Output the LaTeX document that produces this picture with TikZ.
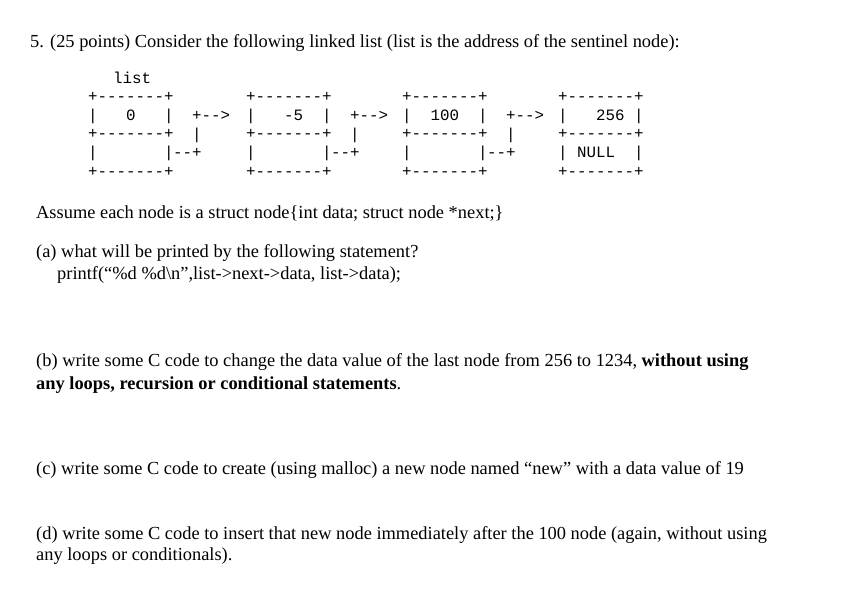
\documentclass[tikz,border=0pt]{standalone}
\usepackage{fontspec}
\setmainfont{Liberation Serif}
\setmonofont{Liberation Mono}
\newcommand{\blk}{\hphantom{0}}
\begin{document}
\begin{tikzpicture}[x=1pt,y=-1pt,
  txt/.style={anchor=base west,inner sep=0pt,font=\fontsize{18.4}{22}\selectfont},
  box/.style={anchor=north west,inner sep=0pt,align=left,font=\ttfamily\fontsize{15.8}{18.8}\selectfont},
  arr/.style={box}]
\fill[white] (0,0) rectangle (868,612);
\useasboundingbox (0,0) rectangle (868,612);
\node[txt] (t0) at (30,48) {5. (25 points) Consider the following linked list (list is the address of the sentinel node):};
\node[box] (lst) at (113,72) {list};
\node[box] (b1) at (88,92) {+-------+\\|\blk\blk\blk0\blk\blk\blk|\\+-------+\\|\blk\blk\blk\blk\blk\blk\blk|\\+-------+};
\node[box] (b2) at (246,92) {+-------+\\|\blk\blk\blk-5\blk\blk|\\+-------+\\|\blk\blk\blk\blk\blk\blk\blk|\\+-------+};
\node[box] (b3) at (402,92) {+-------+\\|\blk\blk100\blk\blk|\\+-------+\\|\blk\blk\blk\blk\blk\blk\blk|\\+-------+};
\node[box] (b4) at (558,92) {+-------+\\|\blk\blk\blk256\blk|\\+-------+\\|\blk{}NULL\blk\blk|\\+-------+};
\node[arr] (a1) at (173,110.8) {\blk\blk+-->\\\blk\blk|\\--+};
\node[arr] (a2) at (331,110.8) {\blk\blk+-->\\\blk\blk|\\--+};
\node[arr] (a3) at (487,110.8) {\blk\blk+-->\\\blk\blk|\\--+};
\node[txt] (t1) at (36,219) {Assume each node is a struct node\{int data; struct node *next;\}};
\node[txt] (t2) at (36,258) {(a) what will be printed by the following statement?};
\node[txt] (t3) at (57,280) {printf(“\%d \%d\textbackslash n”,list->next->data, list->data);};
\node[txt] (t4) at (36,367) {(b) write some C code to change the data value of the last node from 256 to 1234, \textbf{without using}};
\node[txt] (t5) at (36,389) {\textbf{any loops, recursion or conditional statements}.};
\node[txt] (t6) at (36,474) {(c) write some C code to create (using malloc) a new node named “new” with a data value of 19};
\node[txt] (t7) at (36,539) {(d) write some C code to insert that new node immediately after the 100 node (again, without using};
\node[txt] (t8) at (36,560) {any loops or conditionals).};
\end{tikzpicture}
\end{document}
